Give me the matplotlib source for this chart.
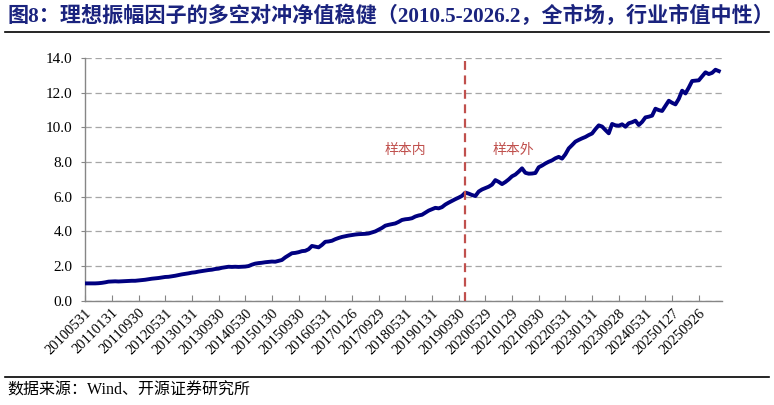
import matplotlib
matplotlib.use("Agg")
import matplotlib.pyplot as plt
from matplotlib.lines import Line2D

# 月度多空对冲净值（2010.5 起，按图读数估计）
nav = [
    1.00, 1.00, 1.00, 1.00, 1.01, 1.03, 1.06, 1.10,
    1.11, 1.12, 1.11, 1.12, 1.13, 1.14, 1.15, 1.15, 1.17, 1.19, 1.21, 1.24,
    1.27, 1.29, 1.31, 1.34, 1.37, 1.38, 1.41, 1.44, 1.48, 1.52, 1.55, 1.58,
    1.62, 1.64, 1.68, 1.71, 1.74, 1.77, 1.79, 1.83, 1.85, 1.90, 1.93, 1.96,
    1.95, 1.96, 1.95, 1.96, 1.97, 2.00, 2.08, 2.14, 2.17, 2.19, 2.22, 2.24,
    2.26, 2.25, 2.30, 2.35, 2.50, 2.62, 2.74, 2.76, 2.80, 2.86, 2.88, 2.97,
    3.16, 3.12, 3.08, 3.22, 3.40, 3.42, 3.46, 3.55, 3.62, 3.68, 3.72, 3.76,
    3.79, 3.82, 3.84, 3.85, 3.86, 3.88, 3.94, 4.00, 4.10, 4.20, 4.33, 4.38,
    4.42, 4.46, 4.55, 4.66, 4.70, 4.72, 4.76, 4.86, 4.92, 4.96, 5.08, 5.20,
    5.28, 5.36, 5.33, 5.40, 5.55, 5.66, 5.76, 5.86, 5.95, 6.05, 6.24, 6.18,
    6.10, 6.04, 6.30, 6.42, 6.50, 6.58, 6.70, 6.96, 6.86, 6.73, 6.85, 7.00,
    7.18, 7.28, 7.45, 7.64, 7.38, 7.33, 7.34, 7.37, 7.70, 7.80, 7.92, 8.02,
    8.10, 8.22, 8.30, 8.20, 8.45, 8.79, 8.98, 9.18, 9.28, 9.37, 9.45, 9.56,
    9.65, 9.90, 10.12, 10.05, 9.85, 9.66, 10.20, 10.12, 10.10, 10.18, 10.04, 10.24,
    10.30, 10.39, 10.14, 10.32, 10.58, 10.62, 10.68, 11.08, 11.00, 10.95, 11.25, 11.54,
    11.42, 11.33, 11.65, 12.12, 11.96, 12.30, 12.68, 12.70, 12.72, 12.95, 13.18, 13.08,
    13.15, 13.33, 13.25,
]

# 横轴标签（每 8 个月一个）
tick_labels = [
    "20100531", "20110131", "20110930", "20120531", "20130131", "20130930",
    "20140530", "20150130", "20150930", "20160531", "20170126", "20170929",
    "20180531", "20190131", "20190930", "20200529", "20210129", "20210930",
    "20220531", "20230131", "20230928", "20240531", "20250127", "20250926",
]
tick_step = 8
split_idx = 113.8          # 样本内 / 样本外 分界
y_ticks = [0, 2, 4, 6, 8, 10, 12, 14]

serif = ["Liberation Serif", "Noto Sans CJK SC"]
cjk = ["Noto Sans CJK SC", "DejaVu Sans"]

fig = plt.figure(figsize=(7.74, 4.05), dpi=100)
ax = fig.add_axes([0.110, 0.2575, 0.823, 0.599])

x = list(range(len(nav)))
ax.plot(x, nav, color="#000080", linewidth=2.8, solid_joinstyle="round", zorder=3)
ax.axvline(split_idx, color="#C0504D", linestyle=(0, (4, 2.5)), linewidth=1.6, zorder=4)

ax.text(96, 8.7, "样本内", family=cjk, color="#C0504D", fontsize=10, ha="center", va="center")
ax.text(128.5, 8.7, "样本外", family=cjk, color="#C0504D", fontsize=10, ha="center", va="center")

ax.set_xlim(0, 191)
ax.set_ylim(0, 14)
ax.set_yticks(y_ticks)
ax.set_yticklabels([f"{v:.1f}" for v in y_ticks], family=serif, fontsize=11)
ax.set_xticks([i * tick_step for i in range(len(tick_labels))])
ax.set_xticklabels(tick_labels, family=serif, fontsize=10.5, rotation=45,
                   ha="right", rotation_mode="anchor")

ax.grid(axis="y", color="#A6A6A6", linestyle=(0, (5, 3)), linewidth=0.9)
ax.set_axisbelow(True)
for s in ["top", "right"]:
    ax.spines[s].set_visible(False)
for s in ["left", "bottom"]:
    ax.spines[s].set_color("#868686")
    ax.spines[s].set_linewidth(1.0)
ax.tick_params(axis="x", direction="in", length=4, color="#868686", pad=4)
ax.tick_params(axis="y", direction="out", length=3, color="#868686", pad=6)

# 标题与来源
fig.text(0.010, 0.960, "图8：理想振幅因子的多空对冲净值稳健（2010.5-2026.2，全市场，行业市值中性）",
         family=serif, fontweight="bold", color="#1A237E", fontsize=15.2,
         ha="left", va="center")
fig.add_artist(Line2D([0.006, 0.994], [0.921, 0.921], color="black", linewidth=1.2))
fig.add_artist(Line2D([0.006, 0.994], [0.070, 0.070], color="black", linewidth=1.2))
fig.text(0.010, 0.035, "数据来源：Wind、开源证券研究所", family=serif,
         color="black", fontsize=11.5, ha="left", va="center")

fig.savefig("out.png", dpi=100)
